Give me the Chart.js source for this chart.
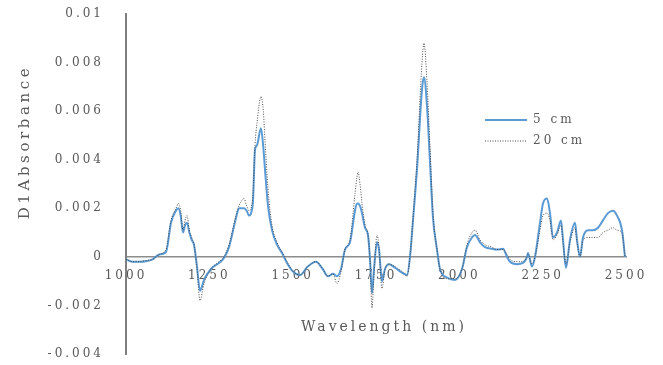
<!DOCTYPE html>
<html>
<head>
<meta charset="utf-8">
<script src="https://cdn.jsdelivr.net/npm/chart.js@4/dist/chart.umd.min.js"></script>
<style>
  html, body { margin: 0; padding: 0; background: #ffffff; }
  #wrap { width: 663px; height: 365px; position: relative; }
</style>
</head>
<body>
<div id="wrap"><canvas id="spectra"></canvas></div>
<script>
// First-derivative (D1) NIR spectra, wavelength in nm
const wavelengths = [
  1000, 1020, 1040, 1060, 1080, 1100, 1120, 1135, 1150, 1157, 1164, 1171, 1177, 1183, 1190, 1197,
  1204, 1213, 1222, 1234, 1255, 1279, 1294, 1309, 1330, 1339, 1354, 1362, 1369, 1375, 1381, 1387,
  1393, 1405, 1412, 1417, 1426, 1438, 1453, 1468, 1483, 1501, 1522, 1545, 1570, 1590, 1606, 1621,
  1633, 1645, 1657, 1672, 1687, 1693, 1696, 1702, 1708, 1717, 1726, 1732, 1738, 1744, 1753, 1759,
  1768, 1777, 1789, 1807, 1828, 1843, 1852, 1861, 1873, 1888, 1894, 1903, 1912, 1921, 1933, 1942,
  1963, 1987, 2008, 2023, 2038, 2047, 2062, 2077, 2098, 2113, 2131, 2143, 2152, 2173, 2191, 2203,
  2206, 2218, 2227, 2242, 2251, 2263, 2272, 2281, 2293, 2305, 2311, 2320, 2332, 2347, 2353, 2362,
  2371, 2386, 2401, 2416, 2431, 2446, 2461, 2473, 2488, 2497
];

const absorb5cm = [
  -0.0001, -0.0002, -0.0002, -0.00018, -0.0001, 0.0001, 0.0002, 0.0014, 0.0019, 0.002, 0.0017, 0.001, 0.0013, 0.0014, 0.001, 0.0007,
  0.0005, -0.0004, -0.0014, -0.00095, -0.0005, -0.00025, -0.00005, 0.0004, 0.0016, 0.002, 0.002, 0.0019, 0.0017, 0.0018, 0.0023, 0.0044,
  0.0046, 0.0053, 0.0045, 0.0036, 0.0021, 0.0011, 0.0005, 0.00016, -0.00025, -0.0006, -0.00075, -0.0004, -0.0002, -0.0005, -0.0008, -0.0007,
  -0.0008, -0.0005, 0.0003, 0.0006, 0.0019, 0.0022, 0.0022, 0.0021, 0.0018, 0.0012, 0.0009, -0.0001, -0.0015, -0.0005, 0.0006, 0.0003,
  -0.001, -0.0005, -0.0003, -0.00045, -0.00065, -0.00075, 0, 0.0015, 0.0036, 0.0069, 0.0074, 0.0062, 0.0039, 0.0016, 0.0003, -0.0005,
  -0.00085, -0.00095, -0.0005, 0.0004, 0.0008, 0.0009, 0.0006, 0.0004, 0.00033, 0.0003, 0.00033, 0, -0.0002, -0.0003, -0.00025, 0,
  0.00016, -0.0004, 0, 0.0014, 0.0022, 0.0024, 0.0018, 0.0008, 0.001, 0.0015, 0.0007, -0.00045, 0.0007, 0.0014, 0.0007, 0,
  0.0008, 0.0011, 0.0011, 0.0012, 0.0015, 0.0018, 0.0019, 0.0017, 0.0011, 0
];

const absorb20cm = [
  -0.0001, -0.0002, -0.0002, -0.00015, -0.0001, 0.0001, 0.0003, 0.0015, 0.002, 0.0022, 0.0019, 0.0011, 0.0015, 0.0017, 0.0011, 0.0008,
  0.0005, -0.0005, -0.0018, -0.0011, -0.0005, -0.0002, 0, 0.0005, 0.0017, 0.0021, 0.0024, 0.0021, 0.0019, 0.002, 0.0026, 0.0046,
  0.0055, 0.0066, 0.006, 0.0048, 0.0028, 0.0013, 0.0006, 0.0002, -0.0002, -0.0006, -0.00075, -0.0004, -0.0002, -0.0005, -0.0008, -0.0007,
  -0.0011, -0.0006, 0.0003, 0.0007, 0.0026, 0.0033, 0.0035, 0.003, 0.0022, 0.0013, 0.0009, -0.0001, -0.0021, -0.0007, 0.0009, 0.0004,
  -0.0013, -0.0005, -0.0003, -0.0004, -0.0006, -0.0008, 0, 0.0016, 0.004, 0.008, 0.0088, 0.0072, 0.0045, 0.0018, 0.0003, -0.0005,
  -0.0009, -0.0009, -0.0005, 0.0005, 0.001, 0.0011, 0.0007, 0.0005, 0.0004, 0.0003, 0.0003, 0.0001, -0.0001, -0.0002, -0.0002, 0,
  0.0001, -0.0003, 0, 0.0011, 0.0017, 0.0018, 0.0015, 0.0007, 0.0009, 0.0013, 0.0006, -0.0003, 0.0006, 0.0012, 0.0006, 0,
  0.0007, 0.0008, 0.0008, 0.0008, 0.001, 0.0011, 0.0012, 0.0011, 0.001, 0
];

const seriesNames = ['5 cm', '20 cm'];
const xTickValues = [1000, 1250, 1500, 1750, 2000, 2250, 2500];
const yTickValues = [-0.004, -0.002, 0, 0.002, 0.004, 0.006, 0.008, 0.01];

const TEXT_COLOR = '#595959';
const TEXT_FONT = 'DejaVu Serif';

const toPoints = (ys) => wavelengths.map((w, i) => ({ x: w, y: ys[i] }));
const fmtY = (v) => String(Number(v.toFixed(3)));

// Wider tracking for all canvas text (reset whenever the canvas is resized)
const tracking = {
  id: 'tracking',
  beforeUpdate(chart) { chart.ctx.letterSpacing = '3px'; },
  beforeDraw(chart) { chart.ctx.letterSpacing = '3px'; }
};

// Axis titles and the in-plot legend
const annotations = {
  id: 'annotations',
  afterDraw(chart) {
    const ctx = chart.ctx;
    ctx.save();
    ctx.fillStyle = TEXT_COLOR;

    // y-axis title
    ctx.save();
    ctx.font = '15px "' + TEXT_FONT + '"';
    ctx.letterSpacing = '3.6px';
    ctx.textAlign = 'center';
    ctx.textBaseline = 'middle';
    ctx.translate(25, 142);
    ctx.rotate(-Math.PI / 2);
    ctx.fillText('D1Absorbance', 0, 0);
    ctx.restore();

    // x-axis title
    ctx.font = '14px "' + TEXT_FONT + '"';
    ctx.letterSpacing = '3px';
    ctx.textAlign = 'center';
    ctx.textBaseline = 'middle';
    ctx.fillText('Wavelength (nm)', 384, 327);

    // legend
    const rows = [120, 141];
    chart.data.datasets.forEach((ds, i) => {
      const y = rows[i];
      ctx.save();
      ctx.strokeStyle = ds.borderColor;
      ctx.lineWidth = ds.borderWidth;
      ctx.setLineDash(ds.borderDash || []);
      ctx.beginPath();
      ctx.moveTo(485, y);
      ctx.lineTo(527, y);
      ctx.stroke();
      ctx.restore();
      ctx.font = '12px "' + TEXT_FONT + '"';
      ctx.letterSpacing = '3px';
      ctx.textAlign = 'left';
      ctx.textBaseline = 'middle';
      ctx.fillStyle = TEXT_COLOR;
      ctx.fillText(ds.label, 533, y);
    });
    ctx.restore();
  }
};

new Chart(document.getElementById('spectra'), {
  type: 'line',
  data: {
    datasets: [
      {
        label: seriesNames[0],
        data: toPoints(absorb5cm),
        borderColor: '#5b9bd5',
        borderWidth: 2,
        pointRadius: 0,
        cubicInterpolationMode: 'monotone',
        order: 1
      },
      {
        label: seriesNames[1],
        data: toPoints(absorb20cm),
        borderColor: '#4a4a4a',
        borderWidth: 1,
        borderDash: [1, 1.5],
        pointRadius: 0,
        cubicInterpolationMode: 'monotone',
        order: 0
      }
    ]
  },
  options: {
    responsive: true,
    maintainAspectRatio: false,
    animation: false,
    layout: { padding: { left: 0, right: 37, top: 14, bottom: 11 } },
    plugins: {
      legend: { display: false },
      tooltip: { enabled: false }
    },
    scales: {
      x: {
        type: 'linear',
        position: { y: 0 },
        min: 1000,
        max: 2500,
        afterBuildTicks(scale) { scale.ticks = xTickValues.map(v => ({ value: v })); },
        afterFit(scale) { scale.height = 0; scale.paddingLeft = 0; scale.paddingRight = 0; },
        grid: { display: false },
        border: { display: true, color: '#8c8c8c', width: 1.5 },
        ticks: {
          color: TEXT_COLOR,
          font: { family: TEXT_FONT, size: 12 },
          padding: 4,
          maxRotation: 0,
          autoSkip: false,
          callback: (v) => String(v)
        }
      },
      y: {
        type: 'linear',
        position: 'left',
        min: -0.004,
        max: 0.01,
        afterBuildTicks(scale) { scale.ticks = yTickValues.map(v => ({ value: v })); },
        afterFit(scale) { scale.width = 126; scale.paddingTop = 0; scale.paddingBottom = 0; },
        grid: { display: false },
        border: { display: true, color: '#7f7f7f', width: 2 },
        ticks: {
          color: TEXT_COLOR,
          font: { family: TEXT_FONT, size: 12 },
          padding: 14,
          callback: (v) => fmtY(v)
        }
      }
    }
  },
  plugins: [tracking, annotations]
});
</script>
</body>
</html>
